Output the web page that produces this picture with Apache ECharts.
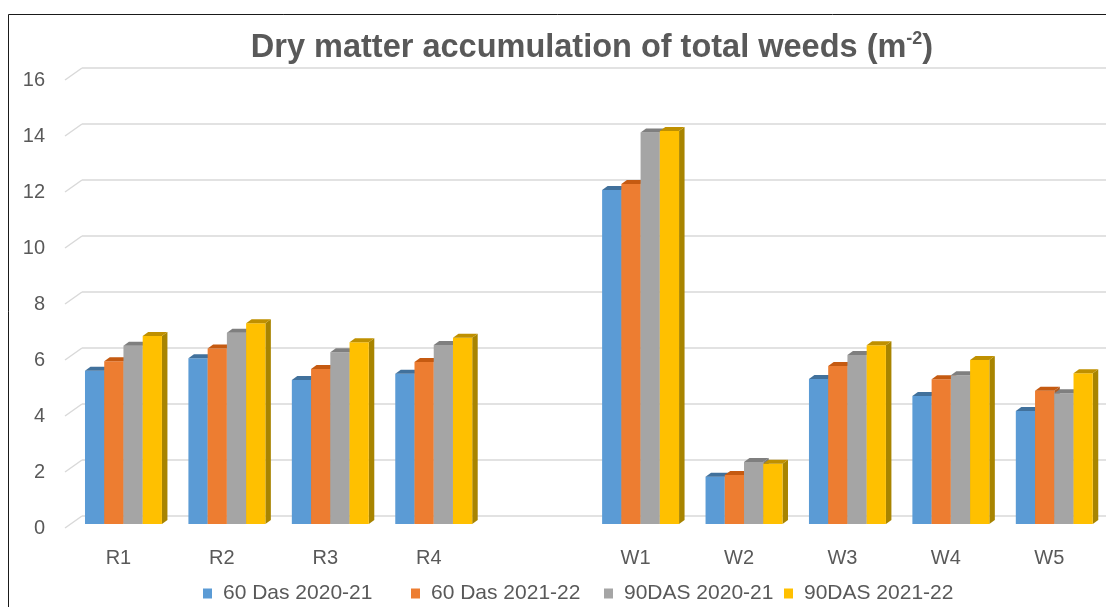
<!DOCTYPE html>
<html>
<head>
<meta charset="utf-8">
<title>Dry matter accumulation of total weeds</title>
<script src="https://cdn.jsdelivr.net/npm/echarts@6/dist/echarts.min.js"></script>
<style>
  html, body { margin: 0; padding: 0; background: #ffffff; }
  #chart { width: 1106px; height: 607px; }
</style>
</head>
<body>
<div id="chart"></div>
<script>
// Treatments (blank slot separates the R and W groups)
const categories = ['R1', 'R2', 'R3', 'R4', '', 'W1', 'W2', 'W3', 'W4', 'W5'];

// Dry matter of total weeds (g m-2)
const das60_2020_21 = [5.47, 5.92, 5.14, 5.37, null, 11.93, 1.69, 5.18, 4.57, 4.04];
const das60_2021_22 = [5.81, 6.27, 5.54, 5.79, null, 12.14, 1.75, 5.64, 5.17, 4.76];
const das90_2020_21 = [6.37, 6.83, 6.13, 6.39, null, 13.98, 2.21, 6.04, 5.31, 4.67];
const das90_2021_22 = [6.71, 7.17, 6.49, 6.65, null, 14.04, 2.15, 6.38, 5.86, 5.38];

const seriesNames = ['60 Das 2020-21', '60 Das 2021-22', '90DAS 2020-21', '90DAS 2021-22'];
const yTicks = [0, 2, 4, 6, 8, 10, 12, 14, 16];

// face colours: front, top, side
const palette = [
  { front: '#5b9bd5', top: '#41719c', side: '#41719c' },
  { front: '#ed7d31', top: '#c55a11', side: '#ae5a21' },
  { front: '#a5a5a5', top: '#7f7f7f', side: '#787878' },
  { front: '#ffc000', top: '#bf9000', side: '#a88400' }
];

const DEPTH_X = 5.5, DEPTH_Y = 4;   // bar depth projection
const GROUP_FRAC = 0.744;

function makeBarRenderer(k) {
  return function (params, api) {
    const idx = api.value(0);
    const v = api.value(1);
    const base = api.coord([idx, 0]);
    const top = api.coord([idx, v]);
    const band = api.size([1, 0])[0];
    const groupW = band * GROUP_FRAC;
    const barW = groupW / 4;
    const x0 = base[0] - groupW / 2 + k * barW;
    const x1 = x0 + barW;
    const yt = top[1], yb = base[1];
    const c = palette[k];
    return {
      type: 'group',
      children: [
        { type: 'polygon', shape: { points: [[x1, yt], [x1 + DEPTH_X, yt - DEPTH_Y], [x1 + DEPTH_X, yb - DEPTH_Y], [x1, yb]] },
          style: { fill: c.side } },
        { type: 'rect', shape: { x: x0, y: yt, width: barW, height: yb - yt },
          style: { fill: c.front } },
        { type: 'polygon', shape: { points: [[x0, yt], [x1, yt], [x1 + DEPTH_X, yt - DEPTH_Y], [x0 + DEPTH_X, yt - DEPTH_Y]] },
          style: { fill: c.top } }
      ]
    };
  };
}

function toItems(arr) {
  const out = [];
  arr.forEach((v, i) => { if (v !== null) out.push([i, v]); });
  return out;
}

const seriesData = [das60_2020_21, das60_2021_22, das90_2020_21, das90_2021_22];

const chart = echarts.init(document.getElementById('chart'), null, { renderer: 'canvas' });

const textColor = '#595959';
const FONT = '"Liberation Sans", Arial, sans-serif';

const legendLeft = [198, 406, 599, 779];

const option = {
  backgroundColor: '#ffffff',
  animation: false,
  title: {
    text: '{a|Dry matter accumulation of total weeds (m}{s|-2}{a|)}',
    left: 587,
    top: 24,
    textAlign: 'center',
    textStyle: {
      rich: {
        a: { fontFamily: FONT, fontWeight: 'bold', fontSize: 32.5, color: textColor, lineHeight: 38 },
        s: { fontFamily: FONT, fontWeight: 'bold', fontSize: 18, color: textColor, lineHeight: 38, padding: [0, 0, 17, 0] }
      }
    }
  },
  legend: seriesNames.map((name, k) => ({
    data: [name],
    left: legendLeft[k],
    top: 578,
    icon: 'rect',
    itemWidth: 9,
    itemHeight: 10,
    selectedMode: false,
    textStyle: { fontFamily: FONT, fontSize: 21, color: textColor, padding: [0, 0, 0, 6] }
  })),
  grid: [
    // plane of the bar fronts
    { left: 71.75, top: 76, width: 1035, height: 448 },
    // front plane carrying the value labels
    { left: 65, top: 80, width: 1000, height: 448 },
    // back wall with the gridlines
    { left: 82, top: 68, width: 1100, height: 448 }
  ],
  xAxis: [
    {
      gridIndex: 0, type: 'category', data: categories,
      axisLine: { show: false }, axisTick: { show: false },
      axisLabel: { fontFamily: FONT, fontSize: 20, color: textColor, margin: 24, padding: [0, 10, 0, 0] }
    },
    { gridIndex: 1, type: 'value', min: 0, max: 1, show: false },
    { gridIndex: 2, type: 'value', min: 0, max: 1, show: false }
  ],
  yAxis: [
    { gridIndex: 0, type: 'value', min: 0, max: 16, interval: 2, show: false },
    {
      gridIndex: 1, type: 'value', min: 0, max: 16, interval: 2,
      axisLine: { show: false }, axisTick: { show: false }, splitLine: { show: false },
      axisLabel: { fontFamily: FONT, fontSize: 20, color: textColor, margin: 20 }
    },
    {
      gridIndex: 2, type: 'value', min: 0, max: 16, interval: 2,
      axisLine: { show: false }, axisTick: { show: false }, axisLabel: { show: false },
      splitLine: { show: true, lineStyle: { color: '#d9d9d9', width: 1.5 } }
    }
  ],
  series: [
    // side-wall gridline segments joining front labels to the back wall
    {
      type: 'custom',
      xAxisIndex: 2, yAxisIndex: 2,
      silent: true,
      data: yTicks.map(t => [0, t]),
      renderItem: function (params, api) {
        const p = api.coord([0, api.value(1)]);
        return {
          type: 'line',
          shape: { x1: p[0] - 17, y1: p[1] + 12, x2: p[0], y2: p[1] },
          style: { stroke: '#d9d9d9', lineWidth: 1.5 }
        };
      },
      z: 1
    }
  ].concat(seriesData.map((arr, k) => ({
    name: seriesNames[k],
    type: 'custom',
    xAxisIndex: 0, yAxisIndex: 0,
    itemStyle: { color: palette[k].front },
    data: toItems(arr),
    encode: { x: 0, y: 1 },
    renderItem: makeBarRenderer(k),
    z: 3
  }))),
  graphic: [
    {
      type: 'rect',
      shape: { x: 8.5, y: 14.5, width: 1200, height: 700 },
      style: { fill: 'none', stroke: '#1a1a1a', lineWidth: 1 },
      silent: true,
      z: 100
    }
  ]
};

chart.setOption(option);
</script>
</body>
</html>
